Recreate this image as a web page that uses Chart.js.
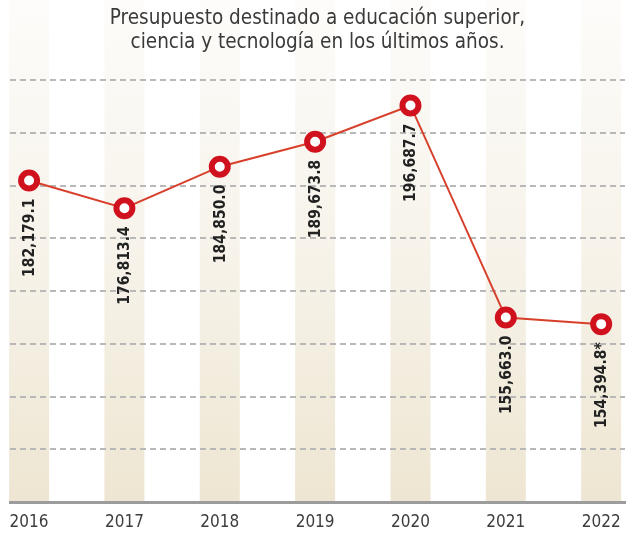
<!DOCTYPE html>
<html>
<head>
<meta charset="utf-8">
<script src="https://cdn.jsdelivr.net/npm/chart.js@4/dist/chart.umd.min.js"></script>
<style>
	body { margin: 0; background: #fff; }
	#wrap { width: 629px; height: 540px; }
</style>
</head>
<body>
<div id="wrap"><canvas id="chart_budget"></canvas></div>
<script>
// datos del gráfico
var years = ['2016', '2017', '2018', '2019', '2020', '2021', '2022'];
var budget = [182179.1, 176813.4, 184850.0, 189673.8, 196687.7, 155663.0, 154394.8];
var marks = ['', '', '', '', '', '', '*'];
var titleLines = ['Presupuesto destinado a educación superior,', 'ciencia y tecnología en los últimos años.'];

var yMin = 120000;
var yStep = 10200;
var yLines = 8;

var FONT = '"DejaVu Sans Condensed", "Liberation Sans Narrow", Arial, sans-serif';

function fmt(v){
	return v.toLocaleString('en-US', { minimumFractionDigits: 1, maximumFractionDigits: 1 });
}

// franjas beige detrás de cada año
var bandsPlugin = {
	id: 'bands',
	beforeDraw: function(chart){
		var ctx = chart.ctx;
		var x = chart.scales.x;
		var bottom = chart.chartArea.bottom;
		ctx.save();
		ctx.fillStyle = '#ffffff';
		ctx.fillRect(0, 0, chart.width, chart.height);
		var grad = ctx.createLinearGradient(0, 0, 0, bottom);
		grad.addColorStop(0, '#fdfcfa');
		grad.addColorStop(0.5, '#f7f3ea');
		grad.addColorStop(1, '#eee6d2');
		ctx.fillStyle = grad;
		years.forEach(function(y, i){
			var px = x.getPixelForValue(i);
			ctx.fillRect(px - 20, 0, 40, bottom);
		});
		ctx.restore();
	}
};

// etiquetas verticales bajo cada punto
var valueLabels = {
	id: 'valueLabels',
	afterDatasetsDraw: function(chart){
		var ctx = chart.ctx;
		var meta = chart.getDatasetMeta(0);
		ctx.save();
		ctx.fillStyle = '#222';
		ctx.font = 'bold 15.5px ' + FONT;
		ctx.textAlign = 'right';
		ctx.textBaseline = 'middle';
		meta.data.forEach(function(pt, i){
			ctx.save();
			ctx.translate(pt.x + 1, pt.y + 18);
			ctx.rotate(-Math.PI / 2);
			ctx.fillText(fmt(budget[i]) + marks[i], 0, 0);
			ctx.restore();
		});
		ctx.restore();
	}
};

var points = budget.map(function(v, i){ return { x: i, y: v }; });

var datos = {
	type: 'line',
	data: {
		datasets: [{
			data: points,
			borderColor: '#d8402c',
			borderWidth: 2,
			pointRadius: 8,
			pointBorderWidth: 6,
			pointBorderColor: '#d0121e',
			pointBackgroundColor: '#ffffff',
			tension: 0
		}]
	},
	options: {
		responsive: true,
		maintainAspectRatio: false,
		animation: false,
		layout: { autoPadding: false, padding: { left: 10, right: 4, top: 0, bottom: 0 } },
		plugins: {
			legend: { display: false },
			tooltip: { enabled: false },
			title: {
				display: true,
				text: titleLines,
				color: '#3a3a3a',
				font: { family: FONT, size: 20.5, weight: 'normal', lineHeight: 1.15 },
				padding: { top: 7, bottom: 25.9 }
			}
		},
		scales: {
			x: {
				type: 'linear',
				min: -0.2,
				max: 6.25,
				afterBuildTicks: function(s){
					s.ticks = years.map(function(y, i){ return { value: i }; });
				},
				afterFit: function(s){
					s.height = 38;
					s.paddingLeft = 0;
					s.paddingRight = 0;
				},
				grid: { display: false, drawTicks: false },
				border: { display: true, color: '#9c9c9c', width: 3 },
				ticks: {
					padding: 10,
					color: '#3d3d3d',
					font: { family: FONT, size: 17 },
					maxRotation: 0,
					callback: function(v){ return years[v]; }
				}
			},
			y: {
				min: yMin,
				max: yMin + yStep * yLines,
				afterFit: function(s){ s.width = 0; },
				ticks: { display: false, stepSize: yStep },
				border: { display: false, dash: [6, 4] },
				grid: {
					drawTicks: false,
					lineWidth: 2,
					color: function(c){ return c.tick && c.tick.value === yMin ? 'rgba(0,0,0,0)' : '#b8b8b8'; }
				}
			}
		}
	},
	plugins: [bandsPlugin, valueLabels]
};

var canvas = document.getElementById('chart_budget').getContext('2d');
window.budgetChart = new Chart(canvas, datos);
</script>
</body>
</html>
